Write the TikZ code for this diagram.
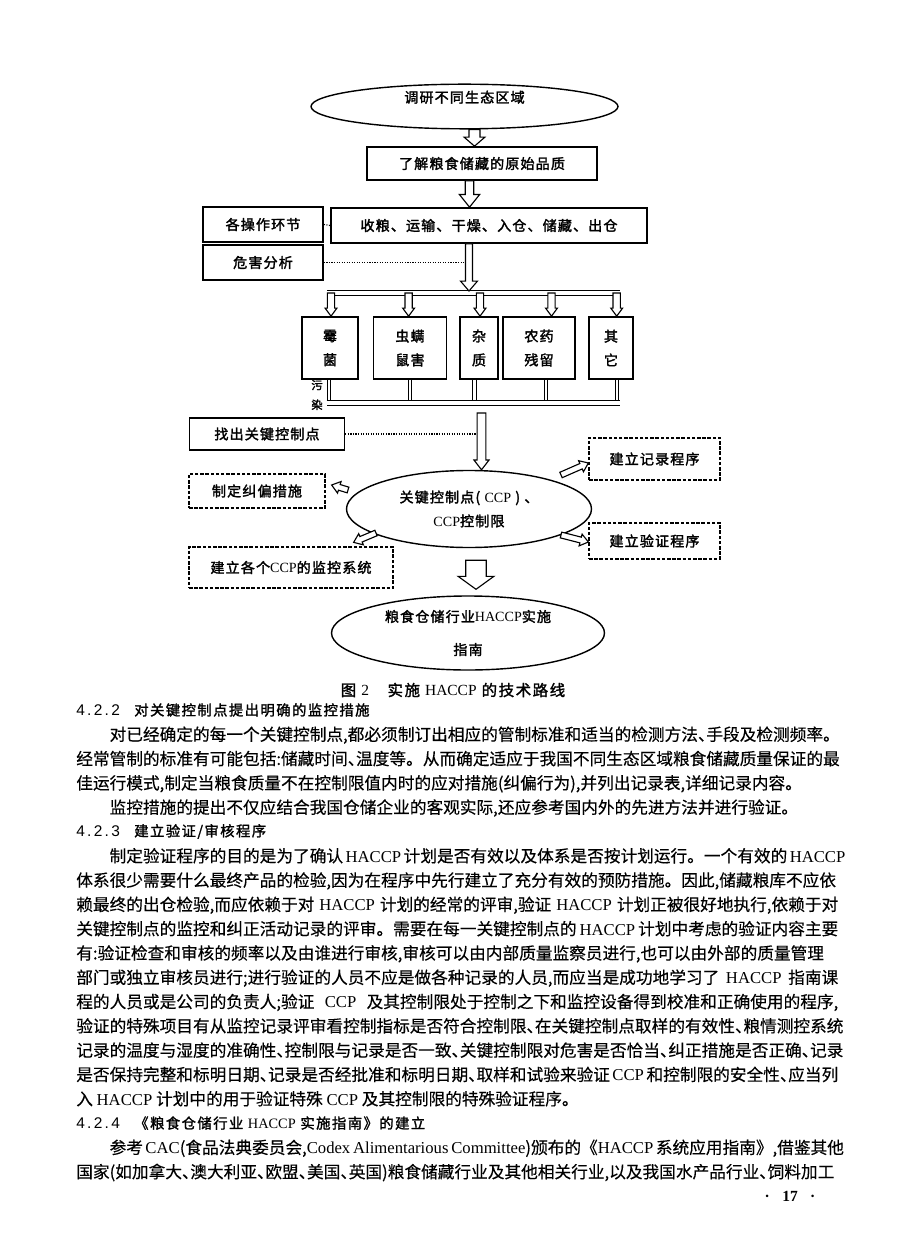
\documentclass[tikz,border=0pt]{standalone}
\usepackage{fontspec}
\setmainfont[FakeBold=0.3]{Noto Sans CJK SC}
\newfontfamily\eng{Liberation Serif}
\newfontfamily\numf[LetterSpace=15]{Liberation Sans}
\newfontfamily\dgf[FakeBold=2,LetterSpace=8]{Noto Sans CJK SC}
\newfontfamily\kai[FakeBold=1.6,LetterSpace=10]{Noto Sans CJK SC}
\usetikzlibrary{shapes.geometric, calc, positioning}
\XeTeXlinebreaklocale "zh"
\XeTeXlinebreakskip=0pt plus 3pt minus 1pt
\newlength\pxu \setlength\pxu{0.025cm}
\newcommand\dun{\makebox[0.5em][l]{、}}
\newcommand\bodyfs{\fontsize{11.86pt}{14pt}\selectfont}
\newcommand\dgfs{\dgf\fontsize{10pt}{17pt}\selectfont}
\newcommand\jline[1]{\makebox[762\pxu][s]{#1}}
% hollow block arrow from #1 to #2: shaft half width, head half width, head length (pt)
\newcommand\hollowarrow[5]{%
  \path let \p1=(#1), \p2=(#2) in
    \pgfextra{\pgfmathsetmacro\harang{atan2(\y2-\y1,\x2-\x1)}%
      \pgfmathsetmacro\harlen{veclen(\x2-\x1,\y2-\y1)}%
      \global\let\harang\harang\global\let\harlen\harlen};
  \begin{scope}[shift={(#1)}, rotate=\harang]
    \draw[hollow] (0pt,{-#3pt}) -- ({\harlen pt-#5pt},{-#3pt}) -- ({\harlen pt-#5pt},{-#4pt})
      -- ({\harlen pt},0pt) -- ({\harlen pt-#5pt},{#4pt}) -- ({\harlen pt-#5pt},{#3pt})
      -- (0pt,{#3pt}) -- cycle;
  \end{scope}
}
\tikzset{
  flowbox/.style={rectangle, draw, line width=1.2pt, inner sep=0pt, font=\dgfs, align=center},
  notebox/.style={flowbox, line width=0.9pt, dash pattern=on 2.5pt off 1.2pt},
  oval/.style={ellipse, draw, line width=1pt, inner sep=0pt, font=\dgfs, align=center},
  bus/.style={double, double distance=2.2pt, line width=0.7pt},
  hint/.style={densely dotted, line width=0.8pt},
  hollow/.style={draw, line width=0.8pt, fill=white, line join=miter},
  txt/.style={anchor=west, inner sep=0pt, text height=10.4pt, text depth=1.4pt, font=\bodyfs},
  sechead/.style={anchor=west, inner sep=0pt, font=\kai\fontsize{10.2pt}{12pt}\selectfont}
}

\begin{document}
\begin{tikzpicture}[x=0.025cm, y=-0.025cm]
  \fill[white] (0,0) rectangle (920,1253);
  \useasboundingbox (0,0) rectangle (920,1253);

  % flow chart
  \node[oval, minimum width=307\pxu, minimum height=34\pxu] (survey) at (464.5,106.5) {调研不同生态区域\\[-3pt]};
  \node[flowbox, minimum width=230\pxu, minimum height=33\pxu] (origin) at (482,163.5) {了解粮食储藏的原始品质};
  \node[flowbox, minimum width=316\pxu, minimum height=35\pxu] (ops) at (489,225.5) {收粮、运输、干燥、入仓、储藏、出仓};
  \node[flowbox, minimum width=120\pxu, minimum height=35\pxu] (opslab) at (263,224.5) {各操作环节};
  \node[flowbox, minimum width=120\pxu, minimum height=35\pxu] (hazlab) at (263,262.5) {危害分析};

  \node[flowbox, minimum width=56\pxu, minimum height=62\pxu] (mold) at (330,348) {霉\\菌};
  \node[flowbox, minimum width=73\pxu, minimum height=62\pxu] (pest) at (410,348) {虫螨\\鼠害};
  \node[flowbox, minimum width=38\pxu, minimum height=62\pxu] (dirt) at (479,348) {杂\\质};
  \node[flowbox, minimum width=72\pxu, minimum height=62\pxu] (resid) at (539,348) {农药\\残留};
  \node[flowbox, minimum width=44\pxu, minimum height=62\pxu] (other) at (611,348) {其\\它};
  \node[font=\dgf\fontsize{8pt}{14pt}\selectfont, align=center, inner sep=0pt] (pollu) at (317,395) {污\\染};

  \node[flowbox, minimum width=155\pxu, minimum height=32\pxu] (key) at (267,434) {找出关键控制点};
  \node[oval, minimum width=245\pxu, minimum height=77\pxu] (ccp) at (469,509) {关键控制点( {\eng CCP} ) 、\\{\eng CCP}控制限};
  \node[notebox, minimum width=131\pxu, minimum height=42\pxu] (rec) at (654.5,459) {建立记录程序};
  \node[notebox, minimum width=131\pxu, minimum height=36\pxu] (ver) at (654.5,541) {建立验证程序};
  \node[notebox, minimum width=136\pxu, minimum height=34\pxu] (fix) at (257,491) {制定纠偏措施};
  \node[notebox, minimum width=204\pxu, minimum height=41\pxu] (mon) at (291,567.5) {建立各个{\eng CCP}的监控系统};
  \node[oval, minimum width=273\pxu, minimum height=74\pxu] (guide) at (468,633) {粮食仓储行业{\eng HACCP}实施\\[6.5pt]指南};

  \coordinate (busT) at (0,293);
  \coordinate (busB) at (0,403);
  \coordinate (axA) at (474.5,0);
  \coordinate (axA2) at (469.5,0);
  \coordinate (axB) at (469,291);
  \coordinate (ccpin) at (481.5,413);
  \foreach \hz/\da/\dl in {mold/1/-1, pest/-1.4/0, dirt/1/-4.5, resid/12.5/7, other/5.7/6} {
    \coordinate (\hz-in) at ($(\hz.north)+(\da,0)$);
    \coordinate (\hz-out) at ($(\hz.south)+(\dl,0)$);
    \draw[bus, double distance=2pt] (\hz-out) -- (\hz-out |- busB);
  }
  \draw[bus] ($(mold-in |- busT)+(-3.7,0)$) -- ($(other-in |- busT)+(3.7,0)$);
  \draw[bus] ($(mold-out |- busB)+(-2.5,0)$) -- ($(other-out |- busB)+(2.5,0)$);

  \draw[hint] (opslab.east) -- (ops.west);
  \draw[hint] (hazlab.east) -- ($(hazlab.east -| axB)+(-3.5,0)$);
  \draw[hint] (key.east) -- ($(key.east -| ccpin)+(-4.3,0)$);

  \hollowarrow{survey.south -| axA}{origin.north -| axA}{3.9}{7.4}{6.4}
  \hollowarrow{origin.south -| axA2}{ops.north -| axA2}{3}{7.2}{9}
  \hollowarrow{ops.south -| axB}{axB}{2.5}{6}{7}
  \foreach \hz in {mold, pest, dirt, resid, other} {
    \hollowarrow{\hz-in |- busT}{\hz-in}{2.6}{4.2}{5.7}
  }
  \hollowarrow{ccpin}{ccpin |- ccp.north}{3.1}{5.4}{7}
  \hollowarrow{$(ccp.center)+(92,-34)$}{$(rec.west)+(0,4)$}{2.1}{4.3}{5.7}
  \hollowarrow{$(ccp.center)+(92,26)$}{$(ver.west)+(0,1)$}{2.1}{4.3}{5.7}
  \hollowarrow{$(ccp.center)+(-121,-19)$}{$(fix.east)+(6,-6)$}{2.1}{4.3}{5.7}
  \hollowarrow{$(ccp.center)+(-93,24)$}{$(mon.north east)+(-40,-4)$}{2.1}{4.3}{5.7}
  \hollowarrow{$(ccp.south)+(7,12)$}{$(guide.north)+(8,-6)$}{7.3}{12.7}{9.2}

  % caption and text
  \node[font=\kai\fontsize{11pt}{12pt}\selectfont, inner sep=0pt] (cap) at (453,690) {图 {\eng 2}\hspace{1.2em}实施 {\eng HACCP} 的技术路线};
  \node[sechead] (h422) at (76,710) {{\numf\fontsize{11pt}{12pt}\selectfont 4.2.2}\hspace{1em}对关键控制点提出明确的监控措施};
  \node[txt] (p1) at (76,734.3) {\jline{\hspace*{2em}对已经确定的每一个关键控制点,都必须制订出相应的管制标准和适当的检测方法\dun 手段及检测频率。}};
  \node[txt] (p2) at (76,758.6) {\jline{经常管制的标准有可能包括:储藏时间\dun 温度等。从而确定适应于我国不同生态区域粮食储藏质量保证的最}};
  \node[txt] (p3) at (76,782.9) {佳运行模式,制定当粮食质量不在控制限值内时的应对措施(纠偏行为),并列出记录表,详细记录内容。};
  \node[txt] (p4) at (76,807.2) {\hspace*{2em}监控措施的提出不仅应结合我国仓储企业的客观实际,还应参考国内外的先进方法并进行验证。};
  \node[sechead] (h423) at (76,831.5) {{\numf\fontsize{11pt}{12pt}\selectfont 4.2.3}\hspace{1em}建立验证/审核程序};
  \node[txt] (p5) at (76,855.8) {\jline{\hspace*{2em}制定验证程序的目的是为了确认 {\eng HACCP} 计划是否有效以及体系是否按计划运行。一个有效的 {\eng HACCP}}};
  \node[txt] (p6) at (76,880.1) {\jline{体系很少需要什么最终产品的检验,因为在程序中先行建立了充分有效的预防措施。因此,储藏粮库不应依}};
  \node[txt] (p7) at (76,904.4) {\jline{赖最终的出仓检验,而应依赖于对 {\eng HACCP} 计划的经常的评审,验证 {\eng HACCP} 计划正被很好地执行,依赖于对}};
  \node[txt] (p8) at (76,928.7) {\jline{关键控制点的监控和纠正活动记录的评审。需要在每一关键控制点的 {\eng HACCP} 计划中考虑的验证内容主要}};
  \node[txt] (p9) at (76,953) {\jline{有:验证检查和审核的频率以及由谁进行审核,审核可以由内部质量监察员进行,也可以由外部的质量管理}};
  \node[txt] (p10) at (76,977.3) {\jline{部门或独立审核员进行;进行验证的人员不应是做各种记录的人员,而应当是成功地学习了 {\eng HACCP} 指南课}};
  \node[txt] (p11) at (76,1001.6) {\jline{程的人员或是公司的负责人;验证 {\eng CCP} 及其控制限处于控制之下和监控设备得到校准和正确使用的程序,}};
  \node[txt] (p12) at (76,1025.9) {\jline{验证的特殊项目有从监控记录评审看控制指标是否符合控制限\dun 在关键控制点取样的有效性\dun 粮情测控系统}};
  \node[txt] (p13) at (76,1050.2) {\jline{记录的温度与湿度的准确性\dun 控制限与记录是否一致\dun 关键控制限对危害是否恰当\dun 纠正措施是否正确\dun 记录}};
  \node[txt] (p14) at (76,1074.5) {\jline{是否保持完整和标明日期\dun 记录是否经批准和标明日期\dun 取样和试验来验证 {\eng CCP} 和控制限的安全性\dun 应当列}};
  \node[txt] (p15) at (76,1098.8) {入 {\eng HACCP} 计划中的用于验证特殊 {\eng CCP} 及其控制限的特殊验证程序。};
  \node[sechead] (h424) at (76,1123.1) {{\numf\fontsize{11pt}{12pt}\selectfont 4.2.4}\hspace{1em}《粮食仓储行业 {\eng HACCP} 实施指南》的建立};
  \node[txt] (p16) at (76,1147.4) {\jline{\hspace*{2em}参考 {\eng CAC}(食品法典委员会,{\eng Codex Alimentarious Committee})颁布的《{\eng HACCP} 系统应用指南》,借鉴其他}};
  \node[txt] (p17) at (76,1171.7) {\jline{国家(如加拿大\dun 澳大利亚\dun 欧盟\dun 美国\dun 英国)粮食储藏行业及其他相关行业,以及我国水产品行业\dun 饲料加工}};
  \node[font=\eng\bfseries\fontsize{11pt}{12pt}\selectfont, inner sep=0pt] (page) at (790,1196) {·\hspace{0.8em}17\hspace{0.8em}·};
\end{tikzpicture}
\end{document}
